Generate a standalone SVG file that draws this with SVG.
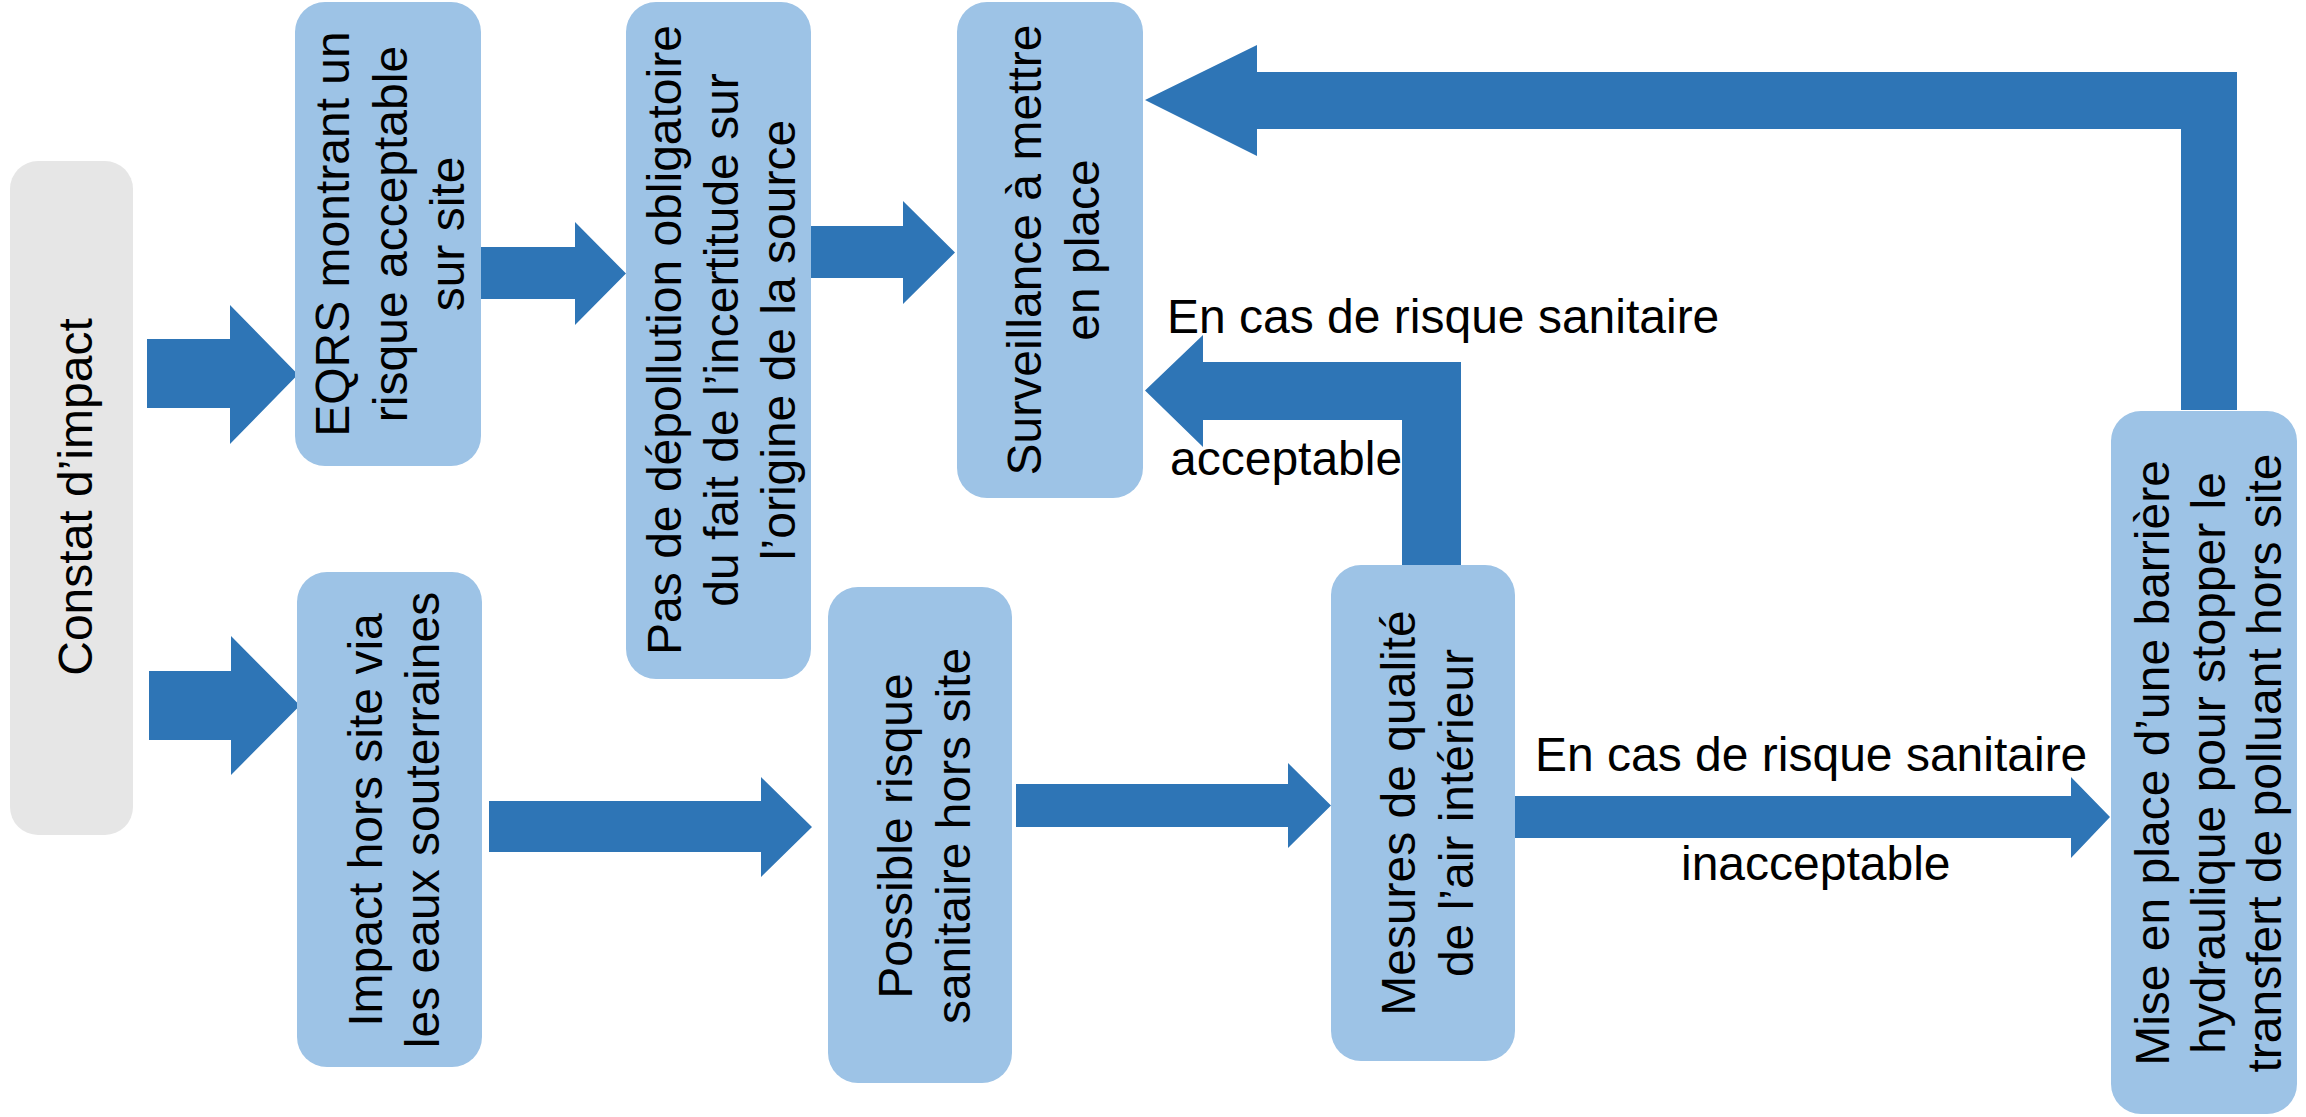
<svg xmlns="http://www.w3.org/2000/svg" width="2306" height="1117" viewBox="0 0 2306 1117">
<style>
.box{fill:#9DC3E6;}
.gray{fill:#E6E6E6;}
.arr{fill:#2E75B6;}
text{font-family:"Liberation Sans",Arial,sans-serif;font-size:48px;fill:#000;}
.c{text-anchor:middle;}
</style>
<rect width="2306" height="1117" fill="#ffffff"/>
<g id="connectors">
<polygon class="arr" points="147,339 230,339 230,305 298,374.5 230,444 230,408 147,408"/>
<polygon class="arr" points="149,671 231,671 231,636 300,705.5 231,775 231,740 149,740"/>
<polygon class="arr" points="481,247 575,247 575,222 626,273.5 575,325 575,299 481,299"/>
<polygon class="arr" points="808,226 903,226 903,201 955,252.5 903,304 903,278 808,278"/>
<polygon class="arr" points="489,801 761,801 761,777 812,827 761,877 761,852 489,852"/>
<polygon class="arr" points="1016,784 1288,784 1288,763 1331,805.5 1288,848 1288,827 1016,827"/>
<polygon class="arr" points="1515,796 2071,796 2071,777 2110,817 2071,858 2071,838 1515,838"/>
<polygon class="arr" points="1402,565 1402,420 1203,420 1203,447 1145,390.5 1203,335 1203,362 1461,362 1461,565"/>
<polygon class="arr" points="2181,410 2181,129 1257,129 1257,156 1145,100 1257,45 1257,72 2237,72 2237,410"/>
<text x="1167" y="333">En cas de risque sanitaire</text>
<text x="1170" y="475">acceptable</text>
<text x="1535" y="771">En cas de risque sanitaire</text>
<text x="1681" y="880">inacceptable</text>
</g>
<g id="constat">
<rect class="gray" x="10" y="161" width="123" height="674" rx="28"/>
<text class="c" transform="translate(92,497) rotate(-90)">Constat d’impact</text>
</g>
<g id="eqrs">
<rect class="box" x="295" y="2" width="186" height="464" rx="30"/>
<text class="c" transform="translate(349,234) rotate(-90)"><tspan x="0" y="0">EQRS montrant un</tspan><tspan x="0" y="57.5">risque acceptable</tspan><tspan x="0" y="115">sur site</tspan></text>
</g>
<g id="pas-depollution">
<rect class="box" x="626" y="2" width="185" height="677" rx="30"/>
<text class="c" transform="translate(681,340) rotate(-90)"><tspan x="0" y="0">Pas de dépollution obligatoire</tspan><tspan x="0" y="57">du fait de l’incertitude sur</tspan><tspan x="0" y="114">l’origine de la source</tspan></text>
</g>
<g id="surveillance">
<rect class="box" x="957" y="2" width="186" height="496" rx="30"/>
<text class="c" transform="translate(1041,250) rotate(-90)"><tspan x="0" y="0">Surveillance à mettre</tspan><tspan x="0" y="58">en place</tspan></text>
</g>
<g id="impact-hors-site">
<rect class="box" x="297" y="572" width="185" height="495" rx="30"/>
<text class="c" transform="translate(382,820) rotate(-90)"><tspan x="0" y="0">Impact hors site via</tspan><tspan x="0" y="57">les eaux souterraines</tspan></text>
</g>
<g id="possible-risque">
<rect class="box" x="828" y="587" width="184" height="496" rx="30"/>
<text class="c" transform="translate(912,836) rotate(-90)"><tspan x="0" y="0">Possible risque</tspan><tspan x="0" y="58">sanitaire hors site</tspan></text>
</g>
<g id="mesures">
<rect class="box" x="1331" y="565" width="184" height="496" rx="30"/>
<text class="c" transform="translate(1415,813) rotate(-90)"><tspan x="0" y="0">Mesures de qualité</tspan><tspan x="0" y="58">de l’air intérieur</tspan></text>
</g>
<g id="mise-en-place">
<rect class="box" x="2111" y="411" width="186" height="703" rx="30"/>
<text class="c" transform="translate(2169,763) rotate(-90)"><tspan x="0" y="0">Mise en place d’une barrière</tspan><tspan x="0" y="56">hydraulique pour stopper le</tspan><tspan x="0" y="112">transfert de polluant hors site</tspan></text>
</g>
</svg>
